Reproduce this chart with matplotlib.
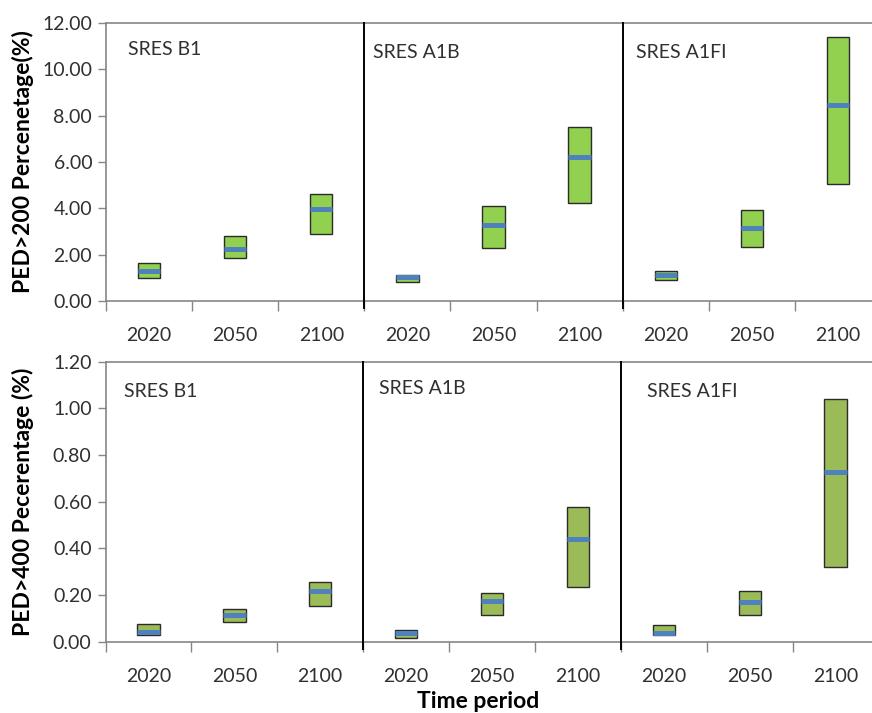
import matplotlib
matplotlib.use("Agg")
import matplotlib.pyplot as plt
import numpy as np

plt.rcParams['font.family'] = ['Lato', 'DejaVu Sans']

# Scenarios and time periods
scenarios = ["SRES B1", "SRES A1B", "SRES A1FI"]
periods = ["2020", "2050", "2100"]

# PED>200 percentage: low / median / high per scenario-period
ped200_low = [1.01, 1.87, 2.88, 0.80, 2.27, 4.24, 0.91, 2.32, 5.05]
ped200_med = [1.29, 2.23, 3.98, 1.04, 3.28, 6.21, 1.11, 3.15, 8.46]
ped200_high = [1.63, 2.82, 4.60, 1.14, 4.11, 7.52, 1.31, 3.94, 11.38]

# PED>400 percentage: low / median / high per scenario-period
ped400_low = [0.029, 0.083, 0.153, 0.017, 0.113, 0.236, 0.027, 0.113, 0.321]
ped400_med = [0.040, 0.113, 0.216, 0.036, 0.174, 0.441, 0.039, 0.170, 0.727]
ped400_high = [0.075, 0.141, 0.256, 0.050, 0.210, 0.577, 0.070, 0.219, 1.040]

fig = plt.figure(figsize=(8.72, 7.13), dpi=100)

GRAY = "#868686"
TXT = "#303030"


def panel(rect, low, med, high, face, ymax, yticks, ylabel, label_pos):
    ax = fig.add_axes(rect)
    n = len(low)
    xs = np.arange(n) + 0.5
    w = 0.26
    for x, lo, md, hi in zip(xs, low, med, high):
        ax.add_patch(plt.Rectangle((x - w / 2, lo), w, hi - lo,
                                   facecolor=face, edgecolor="#2b2b2b",
                                   linewidth=1.0, zorder=3))
        ax.plot([x - w / 2, x + w / 2], [md, md], color="#4F81BD",
                linewidth=3.6, solid_capstyle="butt", zorder=4)
    ax.set_xlim(0, n)
    ax.set_ylim(0, ymax)
    ax.set_yticks(yticks)
    ax.set_yticklabels([f"{t:.2f}" for t in yticks], fontsize=14, color=TXT)
    ax.set_xticks(np.arange(n + 1))
    ax.set_xticklabels([])
    ax.set_xticks(xs, minor=True)
    ax.set_xticklabels(periods * 3, minor=True, fontsize=14, color=TXT)
    ax.tick_params(axis="x", which="major", direction="out", length=7,
                   color=GRAY, width=1)
    ax.tick_params(axis="x", which="minor", length=0, pad=19)
    ax.tick_params(axis="y", direction="out", length=6, color=GRAY, width=1,
                   pad=4)
    for s in ["left", "bottom", "top"]:
        ax.spines[s].set_color(GRAY)
        ax.spines[s].set_linewidth(1.2)
    ax.spines["right"].set_visible(False)
    ax.set_ylabel(ylabel, fontsize=16.5, fontweight="bold", color="black")
    ax.yaxis.set_label_coords(-0.093, 0.5)
    # scenario separators
    for b in (3, 6):
        ax.axvline(b, ymin=-0.025, ymax=1.0, color="black", linewidth=1.4,
                   clip_on=False, zorder=5)
    for i, name in enumerate(scenarios):
        dx, dy = label_pos[i]
        ax.text(3 * i + dx, dy, name, fontsize=14, color=TXT,
                transform=ax.get_xaxis_transform(), va="center", ha="left")
    return ax


panel([0.1216, 0.5778, 0.8887, 0.3899], ped200_low, ped200_med, ped200_high,
      "#92D050", 12, np.arange(0, 12.01, 2.0), "PED>200 Percenetage(%)",
      [(0.26, 0.905), (0.1, 0.895), (0.16, 0.895)])

panel([0.121, 0.100, 0.8865, 0.3927], ped400_low, ped400_med, ped400_high,
      "#9BBB59", 1.2, np.arange(0, 1.201, 0.2), "PED>400 Pecerentage (%)",
      [(0.22, 0.895), (0.18, 0.905), (0.3, 0.895)])

fig.text(478 / 872, 1 - 702 / 713, "Time period", fontsize=16.5,
         fontweight="bold", ha="center", va="center", color="black")

fig.savefig("out.png", dpi=100)
